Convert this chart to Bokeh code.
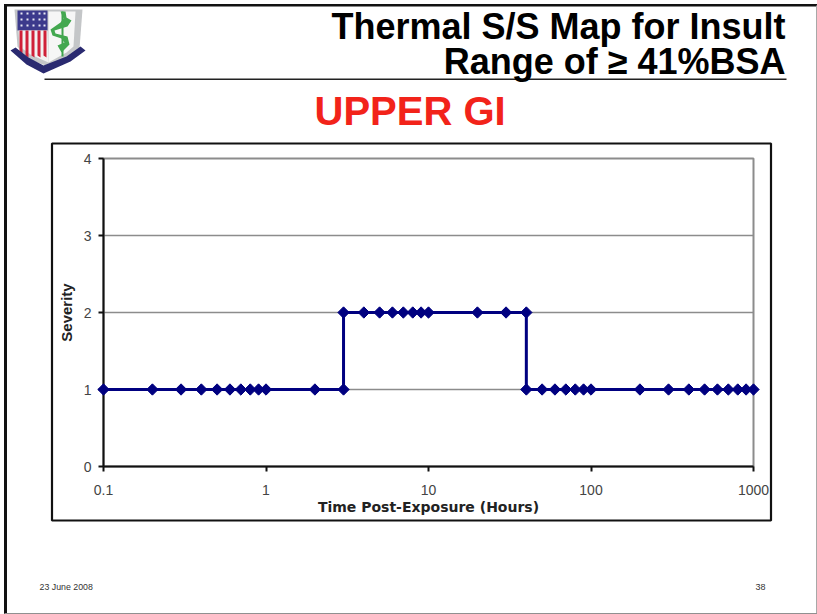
from math import pi
from bokeh.plotting import figure
from bokeh.models import Column, FixedTicker, Range1d
from bokeh.embed import file_html
from bokeh.resources import INLINE
from bokeh.core.properties import value

# chart data
time_low_a = [0.1,0.2,0.3,0.4,0.5,0.6,0.7,0.8,0.9,1,2,3]
severity_low_a = [1]*12
time_high = [3,4,5,6,7,8,9,10,20,30,40]
severity_high = [2]*11
time_low_b = [40,50,60,70,80,90,100,200,300,400,500,600,700,800,900,1000]
severity_low_b = [1]*16
x_ticks = [0.1,1,10,100,1000]
y_ticks = [0,1,2,3,4]
title_lines = ["Thermal S/S Map for Insult","Range of ≥ 41%BSA"]
subtitle = "UPPER GI"
footer_date = "23 June 2008"
footer_page = "38"

W,H = 817,614
FONT = "Liberation Sans"
L,R,T,B = 103,753,158,466

# slide layer: a page-sized figure whose units are pixels
d = figure(width=W, height=H, x_range=Range1d(0,W), y_range=Range1d(H,0),
           output_backend="svg", toolbar_location=None,
           x_axis_location=None, y_axis_location=None,
           min_border=0, min_border_left=0, min_border_right=0, min_border_top=0, min_border_bottom=0,
           outline_line_color=None, background_fill_color="white", border_fill_color="white",
           margin=(0,0,0,0))
d.grid.visible = False

def box(x0,y0,x1,y1,fill):
    d.quad(left=x0,right=x1,top=y0,bottom=y1,fill_color=fill,line_color=None)
def poly(pts,fill):
    d.patch([a for a,b in pts],[b for a,b in pts],fill_color=fill,line_color=None)
def text(x,y,s,size,color="black",style="normal",align="left"):
    d.text([x],[y],text=[s],text_font=value(FONT),text_font_size=f"{size}px",text_color=color,
           text_font_style=style,text_align=align,text_baseline="middle")

# slide frame
box(3.5,3.5,817,6,"#111111")
box(3.5,3.5,6.5,614,"#111111")
box(815.5,5,817,614,"#a8a8a8")
box(4,612.5,817,614,"#909090")
# chart frame
d.quad(left=51.5,right=770.5,top=143,bottom=520,fill_color=None,line_color="#111111",line_width=2.2)
# title rule
box(44,78,786,79.5,"#222222")

text(785,26,title_lines[0],36,"black","bold","right")
text(785,61,title_lines[1],36,"black","bold","right")
text(314,110,subtitle,40,"#f2231a","bold")
text(39,586,footer_date,8.8,"#333333")
text(755,586,footer_page,9,"#333333")

# crest
poly([(14,9),(82,9),(79,48),(70,56),(48,66),(26,58),(17,46)],"#c4c6c8")
poly([(48,11),(75,11),(73,46),(66,52),(48,62)],"#f6f6f6")
box(17,10,47,30,"#3c3a8c")
poly([(18,30),(47,30),(48,62),(30,54),(19,46)],"#f2f2f2")
for a in (19,25,31,37,43):
    poly([(a,30),(a+3,30),(a+3,57),(a,55)],"#d02038")
for a in (21,27,33,39,44):
    for b in (13,19,25):
        box(a-1,b-1,a+1,b+1,"#e8e8f4")
box(61,11,63,56,"#3fa34d")
poly([(60,11),(65,11),(66,17),(71,20),(67,26),(54,30),(55,33),(67,36),(69,44),(61,52),(57,45),(64,42),(61,38),(52,35),(50,29),(60,22),(63,18)],"#43a850")
poly([(10,50),(15,47),(28,57),(43,65),(66,56),(80,46),(85,50),(70,61),(43,73),(26,64)],"#2a2a70")

# chart layer, transparent, laid over the slide
p = figure(width=W, height=H, x_axis_type="log", x_range=(0.1,1000), y_range=(0,4),
           output_backend="svg", toolbar_location=None,
           min_border_left=L, min_border_right=W-R, min_border_top=T, min_border_bottom=H-B,
           background_fill_alpha=0, border_fill_alpha=0,
           outline_line_color="#8c8c8c", outline_line_width=2)

p.xgrid.visible = False
p.ygrid.grid_line_color = "#8c8c8c"
p.ygrid.grid_line_width = 1.5
p.xaxis.ticker = FixedTicker(ticks=x_ticks)
p.xaxis.major_label_overrides = {0.1:"0.1",1:"1",10:"10",100:"100",1000:"1000"}
p.yaxis.ticker = FixedTicker(ticks=y_ticks)
for ax in (p.xaxis[0], p.yaxis[0]):
    ax.axis_line_color = "#111111"; ax.axis_line_width = 2
    ax.major_tick_line_color = "#111111"; ax.major_tick_line_width = 2
    ax.major_tick_in = 0; ax.major_tick_out = 5
    ax.minor_tick_line_color = None
    ax.major_label_text_font = FONT; ax.major_label_text_font_size = "14px"
    ax.major_label_text_color = "#444444"
    ax.axis_label_text_font = FONT; ax.axis_label_text_font_style = "bold"
    ax.axis_label_text_color = "#222222"
p.xaxis.major_label_standoff = 13
p.yaxis.major_label_standoff = 7
p.xaxis.axis_label = "Time Post-Exposure (Hours)"
p.xaxis.axis_label_text_font = "DejaVu Sans"
p.xaxis.axis_label_text_font_size = "14px"
p.xaxis.axis_label_standoff = 1
p.yaxis.axis_label = "Severity"
p.yaxis.axis_label_text_font_size = "15px"
p.yaxis.axis_label_standoff = 6

NAVY = "#000080"
xs = time_low_a + time_high + time_low_b
ys = severity_low_a + severity_high + severity_low_b
p.line(xs, ys, line_color=NAVY, line_width=3, level="overlay")
p.scatter(xs, ys, marker="square", angle=pi/4, size=8, fill_color=NAVY, line_color=NAVY, level="overlay")

over = Column(children=[p], margin=(-H,0,0,0))
page = Column(children=[Column(children=[d]), over], spacing=0)
open("out.html","w").write(file_html(page, INLINE))
